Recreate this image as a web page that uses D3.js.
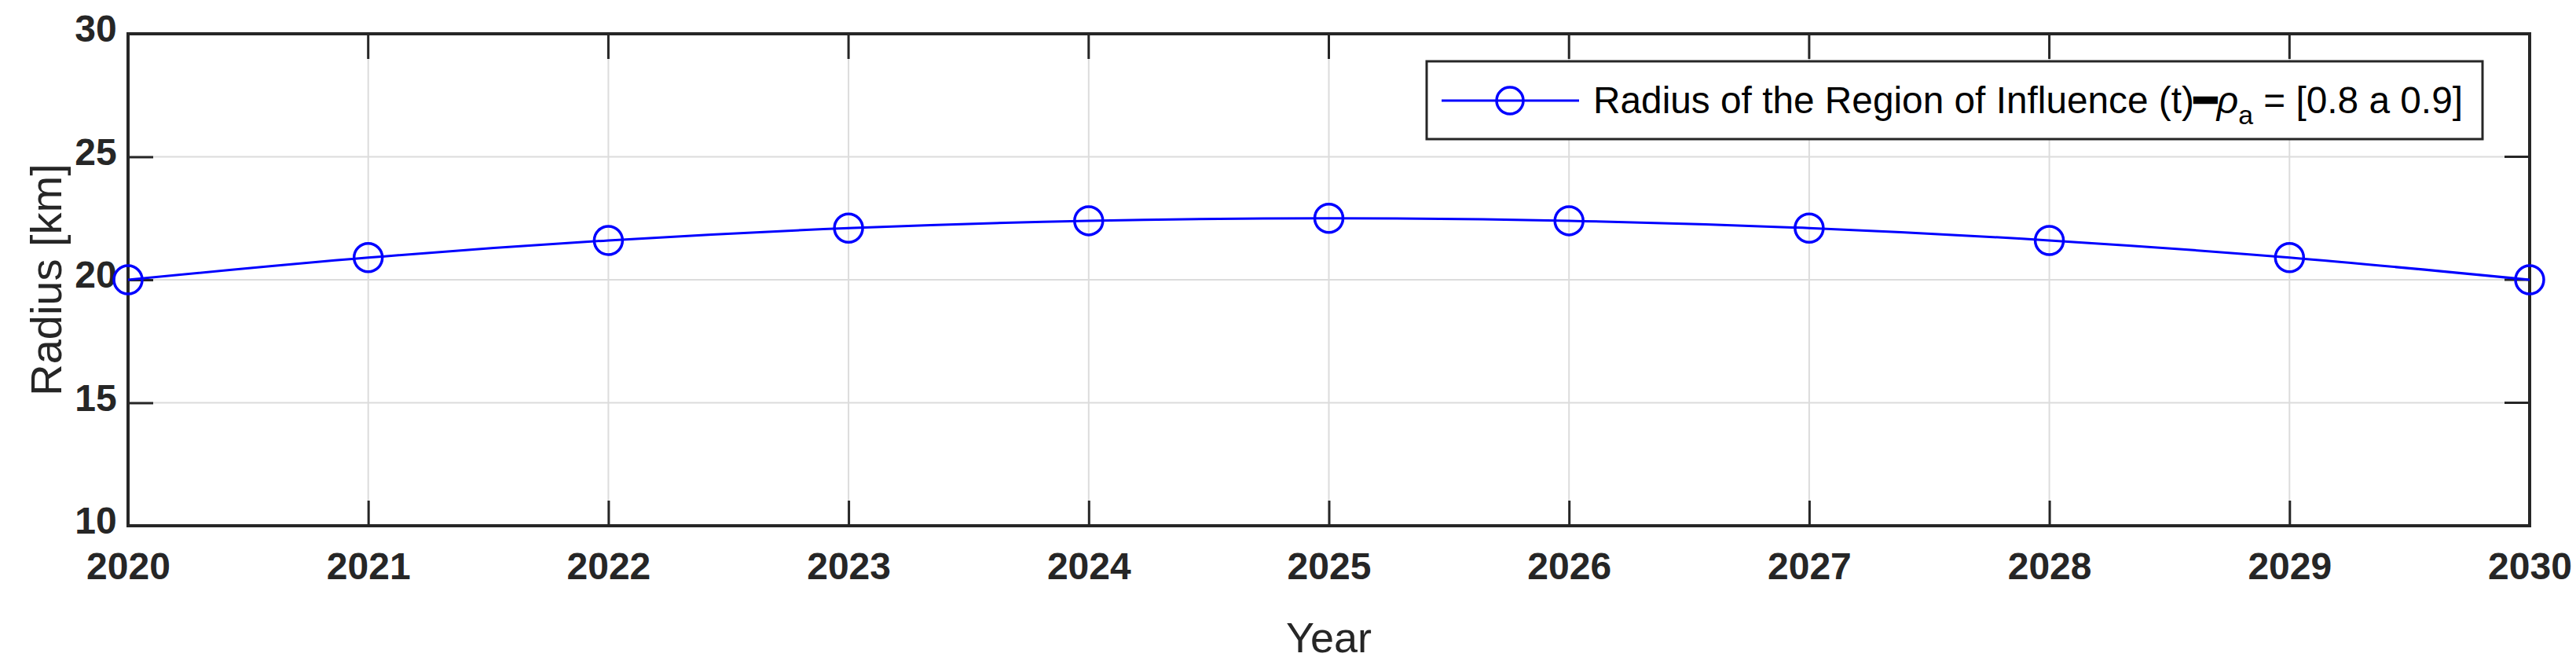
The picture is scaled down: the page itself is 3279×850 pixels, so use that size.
<!DOCTYPE html>
<html><head><meta charset="utf-8">
<script src="https://cdn.jsdelivr.net/npm/d3@7"></script>
<style>body{margin:0;background:#fff}</style>
</head><body>
<svg id="c" width="3279" height="850"></svg>
<script>
var years = [2020, 2021, 2022, 2023, 2024, 2025, 2026, 2027, 2028, 2029, 2030];
var radius = [20.0, 20.9, 21.6, 22.1, 22.4, 22.5, 22.4, 22.1, 21.6, 20.9, 20.0];
var yTicks = [10, 15, 20, 25, 30];

var m = {l: 163, r: 59, t: 43, b: 181};
var W = 3279, H = 850;
var svg = d3.select("#c");
var g = svg.append("g").attr("transform", "translate(" + m.l + "," + m.t + ")");
var w = W - m.l - m.r, h = H - m.t - m.b;

var x = d3.scaleLinear().domain([2020, 2030]).range([0, w]);
var y = d3.scaleLinear().domain([10, 30]).range([h, 0]);

// grid
g.append("g").selectAll("line").data(years).join("line")
  .attr("x1", d => x(d)).attr("x2", d => x(d)).attr("y1", 0).attr("y2", h)
  .attr("stroke", "#dcdcdc").attr("stroke-width", 2);
g.append("g").selectAll("line").data(yTicks).join("line")
  .attr("y1", d => y(d)).attr("y2", d => y(d)).attr("x1", 0).attr("x2", w)
  .attr("stroke", "#dcdcdc").attr("stroke-width", 2);

// axes with inward ticks
var xa = g.append("g").attr("transform", "translate(0," + h + ")")
  .call(d3.axisBottom(x).tickValues(years).tickFormat(d3.format("d")).tickSizeInner(-32).tickSizeOuter(0).tickPadding(44));
var ya = g.append("g")
  .call(d3.axisLeft(y).tickValues(yTicks).tickSizeInner(-32).tickSizeOuter(0).tickPadding(48));
[xa, ya].forEach(function(a){
  a.select(".domain").remove();
  a.selectAll("line").attr("stroke", "#262626").attr("stroke-width", 3);
  a.selectAll("text").attr("fill", "#262626").attr("font-family", "Liberation Sans, Arial, sans-serif")
   .attr("font-size", 48).attr("font-weight", 600);
});
xa.selectAll("text").attr("dy", "0.5em");
ya.selectAll("text").attr("dx", "0.7em").attr("dy", "0.2em");
// top/right ticks
g.append("g").selectAll("line").data(years).join("line")
  .attr("x1", d => x(d)).attr("x2", d => x(d)).attr("y1", 0).attr("y2", 32)
  .attr("stroke", "#262626").attr("stroke-width", 3);
g.append("g").selectAll("line").data(yTicks).join("line")
  .attr("y1", d => y(d)).attr("y2", d => y(d)).attr("x1", w - 32).attr("x2", w)
  .attr("stroke", "#262626").attr("stroke-width", 3);
g.append("rect").attr("width", w).attr("height", h).attr("fill", "none")
  .attr("stroke", "#262626").attr("stroke-width", 4);

// series
var line = d3.line().x((d, i) => x(years[i])).y(d => y(d)).curve(d3.curveMonotoneX);
g.append("path").datum(radius).attr("d", line).attr("fill", "none")
  .attr("stroke", "#0000ff").attr("stroke-width", 3);
g.selectAll("circle.pt").data(radius).join("circle").attr("class", "pt")
  .attr("cx", (d, i) => x(years[i])).attr("cy", d => y(d)).attr("r", 18)
  .attr("fill", "none").attr("stroke", "#0000ff").attr("stroke-width", 3.5);

// axis labels
svg.append("text").attr("x", m.l + w / 2).attr("y", 830).attr("text-anchor", "middle")
  .attr("font-family", "Liberation Sans, Arial, sans-serif").attr("font-size", 54).attr("fill", "#262626").text("Year");
svg.append("text").attr("transform", "translate(78," + (m.t + h / 2) + ") rotate(-90)")
  .attr("text-anchor", "middle").attr("font-family", "Liberation Sans, Arial, sans-serif")
  .attr("font-size", 56).attr("fill", "#262626").text("Radius [km]");

// legend
var lg = svg.append("g");
lg.append("rect").attr("x", 1816).attr("y", 78).attr("width", 1344).attr("height", 99)
  .attr("fill", "#fff").attr("stroke", "#262626").attr("stroke-width", 3);
lg.append("line").attr("x1", 1835).attr("x2", 2010).attr("y1", 128).attr("y2", 128)
  .attr("stroke", "#0000ff").attr("stroke-width", 3);
lg.append("circle").attr("cx", 1922).attr("cy", 128).attr("r", 17)
  .attr("fill", "none").attr("stroke", "#0000ff").attr("stroke-width", 3.5);
var t = lg.append("text").attr("x", 2028).attr("y", 144)
  .attr("font-family", "Liberation Sans Narrow, Arial Narrow, sans-serif").attr("font-size", 48).attr("fill", "#000")
  .attr("textLength", 1107).attr("lengthAdjust", "spacingAndGlyphs");
t.append("tspan").text("Radius of the Region of Influence (t)");
t.append("tspan").attr("font-weight", "bold").text("\u2501");
t.append("tspan").attr("font-style", "italic").text("\u03C1");
t.append("tspan").attr("font-size", 34).attr("dy", 14).text("a");
t.append("tspan").attr("dy", -14).text(" = [0.8 a 0.9]");
</script>
</body></html>
